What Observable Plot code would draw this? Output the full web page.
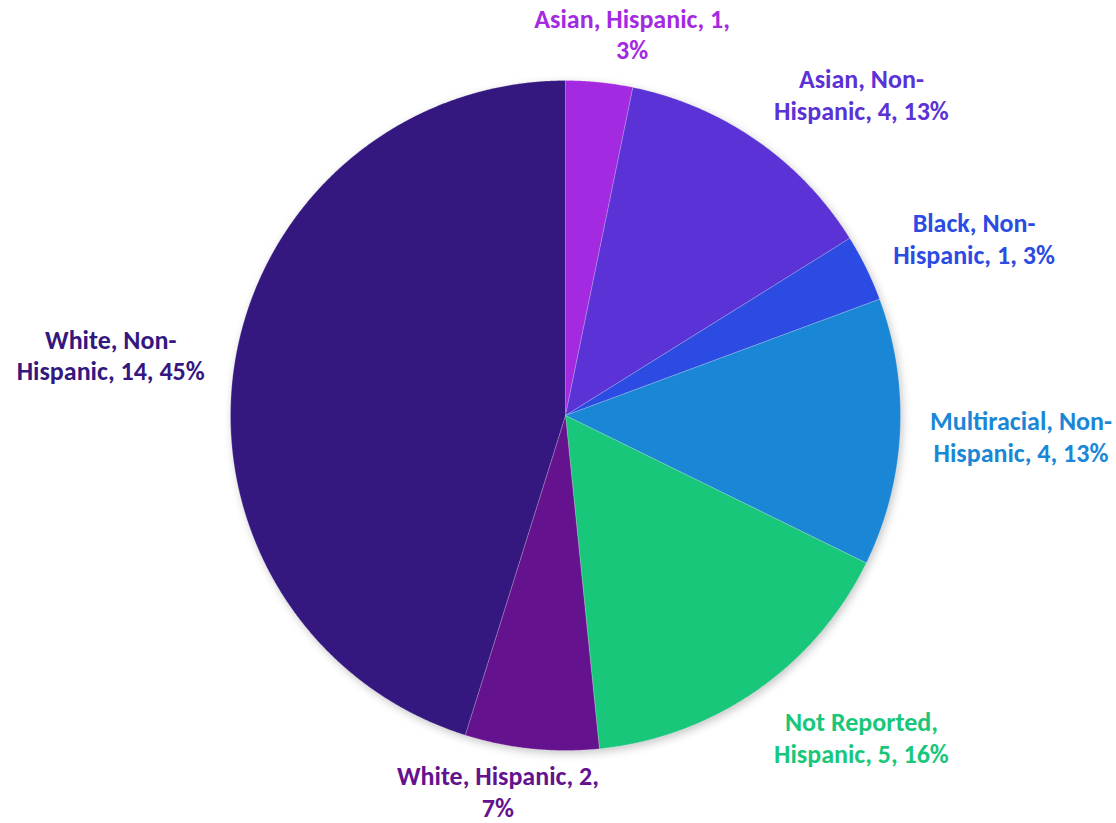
<!DOCTYPE html>
<html>
<head>
<meta charset="utf-8">
<script src="https://cdn.jsdelivr.net/npm/d3@7"></script>
<script src="https://cdn.jsdelivr.net/npm/@observablehq/plot@0.6"></script>
<style>
  html, body { margin: 0; padding: 0; background: #fff; }
  #chart svg g[aria-label="line"] { filter: drop-shadow(2px 3px 4px rgba(0,0,0,0.22)); }
</style>
</head>
<body>
<div id="chart"></div>
<script>
// ---- data ----
const categories = [
  "Asian, Hispanic",
  "Asian, Non-Hispanic",
  "Black, Non-Hispanic",
  "Multiracial, Non-Hispanic",
  "Not Reported, Hispanic",
  "White, Hispanic",
  "White, Non-Hispanic"
];
const values = [1, 4, 1, 4, 5, 2, 14];
const percents = ["3%", "13%", "3%", "13%", "16%", "7%", "45%"];
const labelTexts = [
  "Asian, Hispanic, 1,\n3%",
  "Asian, Non-\nHispanic, 4, 13%",
  "Black, Non-\nHispanic, 1, 3%",
  "Multiracial, Non-\nHispanic, 4, 13%",
  "Not Reported,\nHispanic, 5, 16%",
  "White, Hispanic, 2,\n7%",
  "White, Non-\nHispanic, 14, 45%"
];
const colors = ["#A42AE2", "#5A32D6", "#2B4BE3", "#1A87D6", "#19C77B", "#65128F", "#34187F"];

// ---- layout ----
const W = 1116, H = 823, cx = 565, cy = 415, R = 335;
const fontSize = 26, lineHeight = 1.22, fontFamily = "Carlito, Lato, sans-serif";

const rows = categories.map((c, i) => ({name: c, value: values[i], pct: percents[i], label: labelTexts[i], color: colors[i]}));
const arcs = d3.pie().sort(null).value(d => d.value).startAngle(0).endAngle(2 * Math.PI)(rows);

// slice polygons
const pts = [];
for (const a of arcs) {
  const n = Math.max(4, Math.ceil((a.endAngle - a.startAngle) / 0.004));
  pts.push({x: 0, y: 0, name: a.data.name, color: a.data.color});
  for (let i = 0; i <= n; i++) {
    const ang = a.startAngle + (a.endAngle - a.startAngle) * i / n;
    pts.push({x: R * Math.sin(ang), y: R * Math.cos(ang), name: a.data.name, color: a.data.color});
  }
  pts.push({x: 0, y: 0, name: a.data.name, color: a.data.color});
}

// label positions (outside end, best-fit style)
const ctx = document.createElement("canvas").getContext("2d");
ctx.font = `bold ${fontSize}px ${fontFamily}`;
const padX = 30, padY = 18;
const clamp = v => Math.max(-1, Math.min(1, v));
const labels = arcs.map(a => {
  const mid = (a.startAngle + a.endAngle) / 2;
  const ux = Math.sin(mid), uy = Math.cos(mid);
  const lines = a.data.label.split("\n");
  const hw = d3.max(lines, l => ctx.measureText(l).width) / 2;
  const hh = lines.length * fontSize * lineHeight / 2;
  let y = (R + padY) * uy + clamp(uy * 1.6) * hh;
  y = Math.max(y, -(H - cy) + hh + 1);
  y = Math.min(y, cy - hh - 1);
  return {
    x: (R + padX) * ux + clamp(ux * 3) * hw,
    y,
    text: a.data.label,
    color: a.data.color
  };
});

const chart = Plot.plot({
  width: W,
  height: H,
  margin: 0,
  x: {domain: [-cx, W - cx], axis: null},
  y: {domain: [-(H - cy), cy], axis: null},
  color: {type: "identity"},
  style: {fontFamily: fontFamily, background: "#fff"},
  marks: [
    Plot.line(pts, {x: "x", y: "y", z: "name", fill: "color", stroke: "#ffffff", strokeOpacity: 0.3, strokeWidth: 0.7, curve: "linear"}),
    Plot.text(labels, {x: "x", y: "y", text: "text", fill: "color", fontSize: fontSize, fontWeight: "bold", lineHeight: lineHeight, lineAnchor: "middle", textAnchor: "middle"})
  ]
});
document.getElementById("chart").appendChild(chart);
</script>
</body>
</html>
